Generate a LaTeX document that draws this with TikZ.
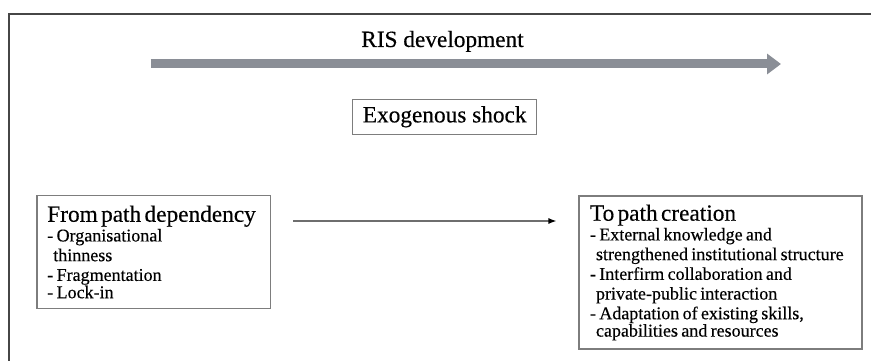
\documentclass[tikz,border=0pt]{standalone}
\usepackage{fontspec}
\setmainfont{Liberation Serif}[FakeBold=0.35]
\usetikzlibrary{arrows.meta}
\definecolor{framegray}{RGB}{70,70,70}
\definecolor{boxgray}{RGB}{125,125,125}
\definecolor{risgray}{RGB}{138,142,150}
\definecolor{thingray}{RGB}{110,110,110}
\newcommand{\bigtxt}{\fontsize{23.3}{26}\selectfont}
\newcommand{\smalltxt}{\fontsize{18}{19.7}\selectfont}
\newcommand{\cont}{\hspace*{6pt}}
\tikzset{
  plainbox/.style={draw=boxgray, line width=1.1pt, inner sep=0pt},
  listbox/.style={plainbox, align=left},
  bigtext/.style={font=\bigtxt, inner sep=0pt},
  frameline/.style={draw=framegray, line width=1.4pt},
  risarrow/.style={draw=risgray, line width=9pt,
    -{Triangle[length=14pt,width=20pt]}},
  thinarrow/.style={draw=thingray, line width=1.2pt,
    -{Latex[length=8pt,width=6pt,color=black]},
    shorten <=22pt, shorten >=22pt}
}
\begin{document}
\begin{tikzpicture}[x=1pt,y=-1pt]
  \useasboundingbox (0,0) rectangle (871,361);
  % outer frame (top and left edges only)
  \coordinate (fr-tr) at (871,14);
  \coordinate (fr-tl) at (9,14);
  \coordinate (fr-bl) at (9,361);
  \draw[frameline] (fr-tr) -- (fr-tl) -- (fr-bl);

  % RIS development
  \node[bigtext, anchor=base] (ris) at (442.5,47) {RIS development};
  \coordinate (ris-s) at (150.5,64);
  \coordinate (ris-e) at (781,64);
  \draw[risarrow] (ris-s) -- (ris-e);

  % Exogenous shock
  \node[plainbox, bigtext, minimum width=184pt, minimum height=35pt] (shock) at (444.7,116.8) {Exogenous shock};

  % left box
  \node[listbox, minimum width=233.7pt, minimum height=112.6pt, text width=213pt] (from) at (153.8,252) {%
    {\bigtxt From path dependency}\smalltxt\\
    - Organisational\\
    \cont thinness\\
    - Fragmentation\\
    - Lock-in};

  % right box
  \node[listbox, minimum width=283pt, minimum height=153pt, text width=261pt] (to) at (720.5,272.5) {%
    {\bigtxt To path creation}\smalltxt\\
    - External knowledge and\\
    \cont strengthened institutional structure\\
    - Interfirm collaboration and\\
    \cont private-public interaction\\
    - Adaptation of existing skills,\\
    \cont capabilities and resources};

  % thin arrow
  \coordinate (ay) at (0,221);
  \draw[thinarrow] (from.east |- ay) -- (to.west |- ay);
\end{tikzpicture}
\end{document}
